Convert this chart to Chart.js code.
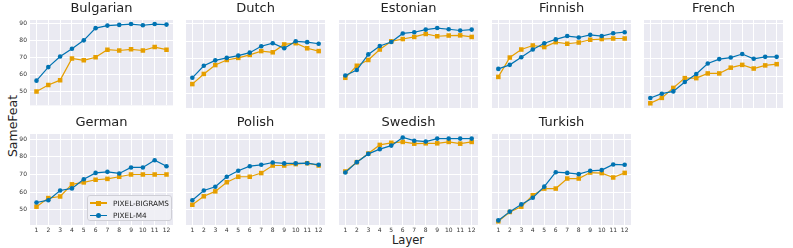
<!DOCTYPE html>
<html>
<head>
<meta charset="utf-8">
<script src="https://cdn.jsdelivr.net/npm/chart.js@4/dist/chart.umd.min.js"></script>
<style>
  body { margin: 0; background: #fff; width: 793px; height: 248px; position: relative; overflow: hidden; font-family: "DejaVu Sans", sans-serif; }
  canvas { position: absolute; }
  #ylab { position: absolute; left: 12px; top: 126px; transform: translate(-50%, -50%) rotate(-90deg); font-size: 12.5px; color: #222; white-space: nowrap; }
  #xlab { position: absolute; left: 408px; top: 240px; transform: translate(-50%, -50%); font-size: 11.5px; color: #222; }
  #legend { position: absolute; left: 87px; top: 195px; width: 85px; height: 26px; background: rgba(240,240,245,0.9); border: 1px solid #cfcfd6; border-radius: 3px; box-sizing: border-box; font-size: 7.3px; color: #222; }
  .row { position: absolute; left: 2px; height: 10px; display: flex; align-items: center; }
  .sym { position: relative; width: 17px; height: 10px; margin-right: 6px; }
  .sym .ln { position: absolute; left: 0; top: 4.4px; width: 17px; height: 1.3px; }
  .sym .mk { position: absolute; }
</style>
</head>
<body>
<div id="ylab">SameFeat</div>
<div id="xlab">Layer</div>

<script>
// panel order: row 1 then row 2
const languages = ['Bulgarian', 'Dutch', 'Estonian', 'Finnish', 'French', 'German', 'Polish', 'Swedish', 'Turkish'];
const layers = [1, 2, 3, 4, 5, 6, 7, 8, 9, 10, 11, 12];
const yTicks = [50, 60, 70, 80, 90];

// PIXEL-BIGRAMS, one list per language
const bigrams = [
  [50.0, 53.8, 56.7, 69.5, 68.4, 70.2, 74.7, 74.2, 74.9, 74.2, 76.2, 74.7],
  [55.5, 61.3, 66.4, 69.3, 70.5, 72.2, 74.4, 73.7, 78.2, 78.9, 76.0, 74.4],
  [59.1, 66.0, 69.3, 75.3, 80.0, 81.3, 82.5, 84.2, 82.9, 83.3, 83.4, 82.5],
  [59.6, 70.7, 75.3, 77.6, 76.7, 79.5, 78.6, 79.3, 80.9, 81.3, 81.6, 81.6],
  [44.5, 47.6, 53.3, 58.9, 58.9, 61.6, 61.6, 64.9, 66.5, 64.4, 66.2, 66.9],
  [51.7, 56.6, 57.5, 64.4, 65.5, 67.0, 67.5, 68.7, 70.0, 70.0, 70.0, 70.0],
  [52.8, 57.6, 60.4, 65.6, 68.7, 68.7, 70.8, 75.1, 75.1, 75.9, 76.4, 75.1],
  [71.7, 77.0, 81.9, 86.8, 88.0, 88.5, 87.5, 87.7, 87.7, 88.5, 87.5, 88.5],
  [43.4, 48.7, 51.7, 58.2, 62.0, 62.0, 67.7, 67.7, 71.1, 70.8, 68.3, 70.9]
];

// PIXEL-M4
const m4 = [
  [56.4, 64.4, 70.7, 75.2, 80.2, 87.4, 88.9, 89.3, 89.8, 89.1, 89.8, 89.5],
  [59.1, 66.0, 69.1, 70.5, 71.8, 73.5, 77.2, 78.9, 76.0, 80.0, 79.5, 78.6],
  [60.4, 63.6, 72.5, 77.3, 79.6, 84.5, 85.2, 86.7, 87.6, 86.9, 86.2, 86.7],
  [64.2, 66.5, 70.9, 75.3, 78.9, 81.1, 83.0, 82.2, 83.7, 83.0, 84.6, 85.2],
  [47.5, 50.0, 51.3, 56.7, 61.3, 67.3, 69.8, 70.7, 72.7, 70.0, 71.1, 71.1],
  [54.1, 55.4, 60.9, 62.1, 67.3, 70.9, 71.5, 70.6, 74.0, 74.0, 78.1, 74.7],
  [55.4, 60.9, 63.0, 68.7, 72.1, 74.7, 75.5, 76.8, 76.3, 76.3, 76.4, 75.5],
  [71.1, 77.0, 81.7, 84.4, 86.4, 91.0, 89.2, 88.7, 90.4, 90.4, 90.4, 90.4],
  [43.9, 48.9, 53.0, 56.8, 63.1, 71.3, 70.9, 70.2, 72.1, 72.5, 75.7, 75.5]
];

const ORANGE = '#E69F00';
const BLUE = '#0173B2';

const colLeft = [30, 182, 335, 488, 640];
const plotW = 147;
const rows = [
  { top: 0, plotH: 92, yMin: 41.8, yMax: 92.2, xLabels: false },
  { top: 114, plotH: 91, yMin: 41.3, yMax: 93.0, xLabels: true }
];
const titleH = 20;
const xAxisH = 11;

const bgPlugin = {
  id: 'bg',
  beforeDraw(chart) {
    const a = chart.chartArea, c = chart.ctx;
    c.save();
    c.fillStyle = '#EAEAF2';
    c.fillRect(a.left, a.top, a.right - a.left, a.bottom - a.top);
    c.restore();
  }
};

languages.forEach((lang, i) => {
  const r = i < 5 ? 0 : 1;
  const col = i % 5;
  const row = rows[r];
  const first = col === 0;
  const axisW = first ? 30 : 0;
  const canvas = document.createElement('canvas');
  const w = plotW + axisW;
  const h = titleH + row.plotH + (row.xLabels ? xAxisH : 0);
  canvas.width = w;
  canvas.height = h;
  canvas.style.left = (colLeft[col] - axisW) + 'px';
  canvas.style.top = row.top + 'px';
  canvas.style.width = w + 'px';
  canvas.style.height = h + 'px';
  document.body.appendChild(canvas);

  new Chart(canvas, {
    type: 'line',
    data: {
      datasets: [
        {
          label: 'PIXEL-BIGRAMS',
          data: layers.map((x, k) => ({ x: x, y: bigrams[i][k] })),
          borderColor: ORANGE,
          backgroundColor: ORANGE,
          borderWidth: 1.2,
          pointStyle: 'rect',
          pointRadius: 3.2,
          pointBorderWidth: 0,
          order: 1
        },
        {
          label: 'PIXEL-M4',
          data: layers.map((x, k) => ({ x: x, y: m4[i][k] })),
          borderColor: BLUE,
          backgroundColor: BLUE,
          borderWidth: 1.2,
          pointStyle: 'circle',
          pointRadius: 2.3,
          pointBorderWidth: 0,
          order: 0
        }
      ]
    },
    options: {
      responsive: false,
      animation: false,
      layout: { padding: 0 },
      plugins: {
        legend: { display: false },
        tooltip: { enabled: false },
        title: {
          display: true,
          fullSize: false,
          text: lang,
          color: '#222',
          font: { family: 'DejaVu Sans', size: 13, weight: 'normal' },
          padding: { top: 0.5, bottom: titleH - 0.5 - 13 * 1.2 }
        }
      },
      scales: {
        x: {
          type: 'linear',
          min: 0.45,
          max: 12.55,
          afterBuildTicks: s => { s.ticks = layers.map(v => ({ value: v })); },
          afterFit: s => { s.height = row.xLabels ? xAxisH : 0; },
          border: { display: false },
          grid: { color: '#ffffff', lineWidth: 1, drawTicks: false },
          ticks: {
            display: row.xLabels,
            padding: 2,
            maxRotation: 0,
            autoSkip: false,
            color: '#333',
            font: { family: 'DejaVu Sans', size: 6 }
          }
        },
        y: {
          min: row.yMin,
          max: row.yMax,
          afterBuildTicks: s => { s.ticks = yTicks.map(v => ({ value: v })); },
          afterFit: s => { s.width = axisW; },
          border: { display: false },
          grid: { color: '#ffffff', lineWidth: 1, drawTicks: false },
          ticks: {
            display: first,
            padding: 3,
            color: '#333',
            font: { family: 'DejaVu Sans', size: 6 }
          }
        }
      }
    },
    plugins: [bgPlugin]
  });
});

// legend inside the German panel
const legend = document.createElement('div');
legend.id = 'legend';
[
  { name: 'PIXEL-BIGRAMS', color: ORANGE, shape: 'square' },
  { name: 'PIXEL-M4', color: BLUE, shape: 'circle' }
].forEach((e, k) => {
  const row = document.createElement('div');
  row.className = 'row';
  row.style.top = (2 + k * 12.5) + 'px';
  const sym = document.createElement('div');
  sym.className = 'sym';
  const ln = document.createElement('div');
  ln.className = 'ln';
  ln.style.background = e.color;
  const mk = document.createElement('div');
  mk.className = 'mk';
  mk.style.background = e.color;
  mk.style.width = mk.style.height = '5px';
  mk.style.left = '6px';
  mk.style.top = '2.5px';
  if (e.shape === 'circle') mk.style.borderRadius = '50%';
  sym.appendChild(ln);
  sym.appendChild(mk);
  const txt = document.createElement('span');
  txt.textContent = e.name;
  row.appendChild(sym);
  row.appendChild(txt);
  legend.appendChild(row);
});
document.body.appendChild(legend);
</script>
</body>
</html>
